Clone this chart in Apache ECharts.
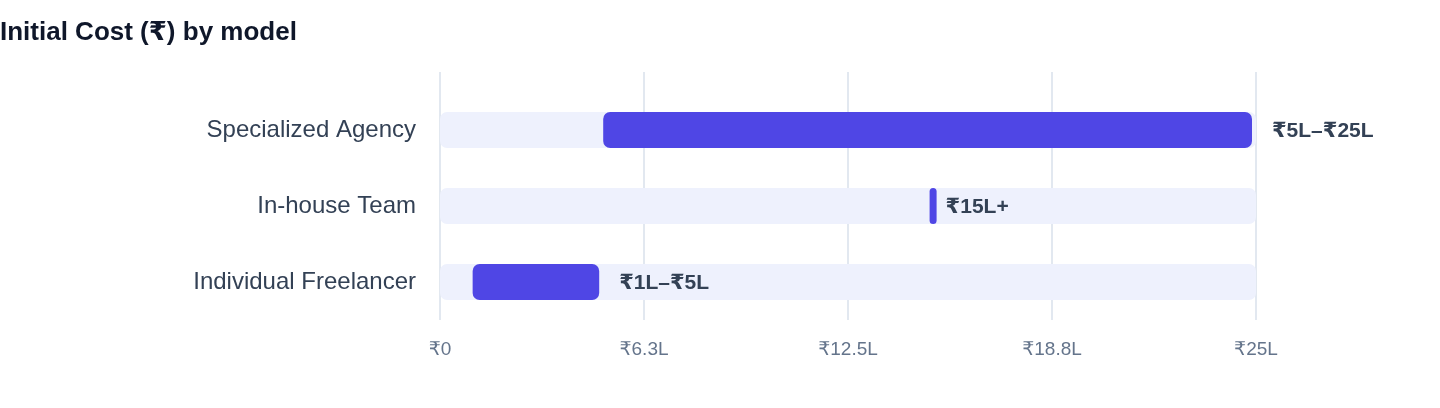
<!DOCTYPE html>
<html>
<head>
<meta charset="utf-8">
<script src="https://cdn.jsdelivr.net/npm/echarts@6/dist/echarts.min.js"></script>
<style>
  html, body { margin: 0; padding: 0; background: #fff; }
  #chart { width: 1440px; height: 408px; }
</style>
</head>
<body>
<div id="chart"></div>
<script>
  // bottom to top, as the category axis draws them
  const models = ["Individual Freelancer", "In-house Team", "Specialized Agency"];
  const costFrom = [1, 15, 5];   // ₹ lakh
  const costTo = [5, 15, 25];
  const rangeLabels = ["₹1L–₹5L", "₹15L+", "₹5L–₹25L"];
  const axisMax = 25;
  const tickStep = 6.25;
  const tickLabels = ["₹0", "₹6.3L", "₹12.5L", "₹18.8L", "₹25L"];

  const FONT = "Helvetica, Arial, 'Liberation Sans', 'DejaVu Sans', sans-serif";
  const BAR = "#4f46e5";
  const TRACK = "#eef1fd";

  const chart = echarts.init(document.getElementById("chart"), null, { renderer: "canvas" });

  // track (full 0..max), range bar (a touch short of its end, min 7px), label after the end
  function renderRow(params, api) {
    const row = api.value(0);
    const a = api.coord([api.value(1), row]);
    const b = api.coord([api.value(2), row]);
    const t0 = api.coord([0, row]);
    const t1 = api.coord([axisMax, row]);
    const h = 36;
    const y = a[1] - h / 2;
    const w = Math.max(b[0] - a[0] - 4, 7);
    return {
      type: "group",
      children: [
        { type: "rect", shape: { x: t0[0], y: y, width: t1[0] - t0[0], height: h, r: 7 },
          style: { fill: TRACK } },
        { type: "rect", shape: { x: a[0], y: y, width: w, height: h, r: Math.min(7, w / 2) },
          style: { fill: BAR } },
        { type: "text", x: b[0] + 16, y: a[1] + 1,
          style: { text: rangeLabels[params.dataIndex], fill: "#334155", font: "bold 21px " + FONT,
                   textVerticalAlign: "middle", textAlign: "left" } },
      ],
    };
  }

  chart.setOption({
    animation: false,
    title: {
      text: "Initial Cost (₹) by model", left: 0, top: 20, padding: 0,
      textStyle: { fontFamily: FONT, fontSize: 26, fontWeight: "bold", color: "#0f172a" },
    },
    grid: [
      { left: 440, right: 184, top: 72, bottom: 88 },
      { left: 440, right: 184, top: 92, bottom: 88 },
    ],
    xAxis: [
      { type: "value", gridIndex: 0, min: 0, max: axisMax, interval: tickStep,
        axisLine: { show: false }, axisTick: { show: false },
        splitLine: { show: true, lineStyle: { color: "#e2e8f0", width: 2 } },
        axisLabel: { margin: 20, fontFamily: FONT, fontSize: 19, color: "#64748b",
                     formatter: (v) => tickLabels[Math.round(v / tickStep)] } },
      { type: "value", gridIndex: 1, min: 0, max: axisMax, show: false },
    ],
    yAxis: [
      { type: "category", gridIndex: 0, show: false, data: models },
      { type: "category", gridIndex: 1, data: models,
        axisLine: { show: false }, axisTick: { show: false }, splitLine: { show: false },
        axisLabel: { margin: 24, fontFamily: FONT, fontSize: 24, color: "#334155" } },
    ],
    series: [{
      type: "custom",
      xAxisIndex: 1, yAxisIndex: 1,
      renderItem: renderRow,
      encode: { x: [1, 2], y: 0 },
      data: models.map((m, i) => [i, costFrom[i], costTo[i]]),
    }],
  });
</script>
</body>
</html>
